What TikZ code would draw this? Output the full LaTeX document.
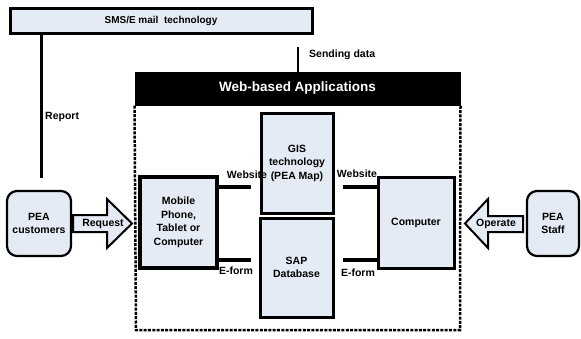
\documentclass[tikz,border=0pt]{standalone}
\usepackage{fontspec}
\setmainfont{Liberation Sans}
\definecolor{boxfill}{HTML}{E5EBF5}
\begin{document}
\begin{tikzpicture}[x=1pt,y=-1pt,
  lbl/.style={font=\fontsize{10.5}{12.5}\selectfont\bfseries, inner sep=0pt, align=center},
  sqbox/.style={draw, fill=boxfill, line width=3pt, inner sep=0pt, align=center, font=\fontsize{10.5}{13.5}\selectfont\bfseries},
  rbox/.style={draw, fill=boxfill, line width=2.2pt, rounded corners=10pt, inner sep=0pt, align=center, font=\fontsize{10.5}{13.5}\selectfont\bfseries},
  stub/.style={line width=4pt},
  bigarrow/.style={draw, fill=boxfill, line width=2pt, line join=miter},
  ]
\useasboundingbox (0,0) rectangle (581,338);

% SMS / Email box
\node[sqbox, minimum width=302pt, minimum height=25pt, font=\fontsize{10}{12}\selectfont\bfseries] (sms) at (161,20.5) {SMS/E mail\ \ technology};

% Web-based application container
\node[fill=black, draw=black, line width=1pt, minimum width=325pt, minimum height=33pt, inner sep=0pt,
      text=white, font=\fontsize{13.5}{15}\selectfont\bfseries] (web) at (297.5,88.5) {Web-based Applications};
\draw[line width=2.5pt, dash pattern=on 3pt off 1.3pt] (web.south west) -- (136,330) -- (460,330) -- (web.south east);

% inner boxes
\node[sqbox, line width=4pt, minimum width=77pt, minimum height=91pt] (mobile) at (178.5,222.5) {Mobile\\Phone,\\Tablet or\\Computer};
\node[sqbox, minimum width=72pt, minimum height=100pt] (gis) at (297,163) {GIS\\technology\\(PEA Map)};
\node[sqbox, minimum width=73pt, minimum height=99pt] (sap) at (296.5,267.5) {SAP\\Database};
\node[sqbox, minimum width=76pt, minimum height=91pt] (comp) at (416,222.5) {Computer};

% customers and staff
\node[rbox, minimum width=64pt, minimum height=65pt] (cust) at (39,223.5) {PEA\\customers};
\node[rbox, minimum width=52pt, minimum height=65pt] (staff) at (553,223.5) {PEA\\Staff};

% stubs
\coordinate (wl) at (251,187);
\coordinate (el) at (251,260);
\coordinate (wr) at (343,187);
\coordinate (er) at (343,260);
\draw[stub] (mobile.east |- wl) -- (wl);
\draw[stub] (mobile.east |- el) -- (el);
\draw[stub] (comp.west |- wr) -- (wr);
\draw[stub] (comp.west |- er) -- (er);
\node[lbl] (lwl) at (247,175) {Website};
\node[lbl] (lel) at (236,271) {E-form};
\node[lbl] (lwr) at (357,174) {Website};
\node[lbl] (ler) at (358,273) {E-form};

% report line
\coordinate (repend) at (41,178);
\draw[line width=3pt] (sms.south -| repend) -- (repend);
\node[lbl, anchor=west] (report) at (45,117) {Report};

% sending data line
\coordinate (sendtop) at (298,47);
\draw[line width=2.5pt] (sendtop) -- (web.north -| sendtop);
\node[lbl, anchor=west] (send) at (309,55) {Sending data};

% request arrow
\draw[bigarrow] (73,215) -- (107,215) -- (107,199) -- (132,223.5) -- (107,248) -- (107,232) -- (73,232) -- cycle;
\node[lbl] (req) at (103,223.5) {Request};

% operate arrow
\draw[bigarrow] (523,216) -- (488,216) -- (488,199) -- (465,223.5) -- (488,248) -- (488,232) -- (523,232) -- cycle;
\node[lbl] (op) at (496,223.5) {Operate};
\end{tikzpicture}
\end{document}
